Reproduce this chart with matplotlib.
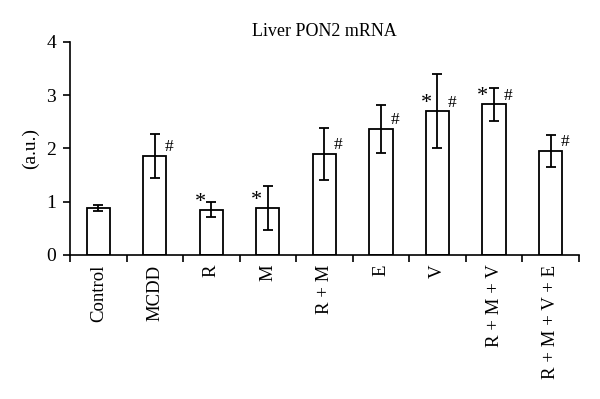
import matplotlib
matplotlib.use("Agg")
import matplotlib.pyplot as plt
import numpy as np

categories = ["Control", "MCDD", "R", "M", "R + M", "E", "V", "R + M + V", "R + M + V + E"]
values = [0.88, 1.86, 0.85, 0.88, 1.90, 2.37, 2.70, 2.83, 1.96]
errors = [0.06, 0.42, 0.14, 0.42, 0.49, 0.45, 0.70, 0.31, 0.30]
stars = [False, False, True, True, False, False, True, True, False]
hashes = [False, True, False, False, True, True, True, True, True]

plt.rcParams['font.family'] = ['Liberation Serif', 'DejaVu Serif']

fig = plt.figure(figsize=(6.0, 3.99), dpi=100)
ax = fig.add_axes([0.1167, 0.361, 0.848, 0.534])

x = np.arange(len(categories))
ax.bar(x, values, width=0.41, color='white', edgecolor='black', linewidth=1.3, zorder=2)
ax.errorbar(x, values, yerr=errors, fmt='none', ecolor='black', elinewidth=1.3,
            capsize=3.5, capthick=1.3, zorder=3)

for xi, v, s, h in zip(x, values, stars, hashes):
    if s:
        ax.text(xi - 0.2, v + 0.14, "*", ha='center', va='center', fontsize=16)
    if h:
        ax.text(xi + 0.25, v + 0.16, "#", ha='center', va='center', fontsize=12.5)

ax.set_xlim(-0.5, len(categories) - 0.5)
ax.set_ylim(0, 4)
ax.set_yticks([0, 1, 2, 3, 4])
ax.set_xticks(np.arange(-0.5, len(categories), 1.0))
ax.set_xticklabels([])
ax.set_xticks(x, minor=True)
ax.set_xticklabels(categories, minor=True, rotation=90, fontsize=13.5, va='top')
ax.tick_params(axis='x', which='minor', length=0, pad=7)
ax.tick_params(axis='x', which='major', direction='out', length=5, width=1.2)
ax.tick_params(axis='y', direction='out', length=5, width=1.2, labelsize=14, pad=5)

for side in ['top', 'right']:
    ax.spines[side].set_visible(False)
for side in ['left', 'bottom']:
    ax.spines[side].set_linewidth(1.2)

ax.set_ylabel("(a.u.)", fontsize=14, labelpad=5)
ax.set_title("Liver PON2 mRNA", fontsize=13, pad=4)

fig.savefig("out.png", dpi=100)
